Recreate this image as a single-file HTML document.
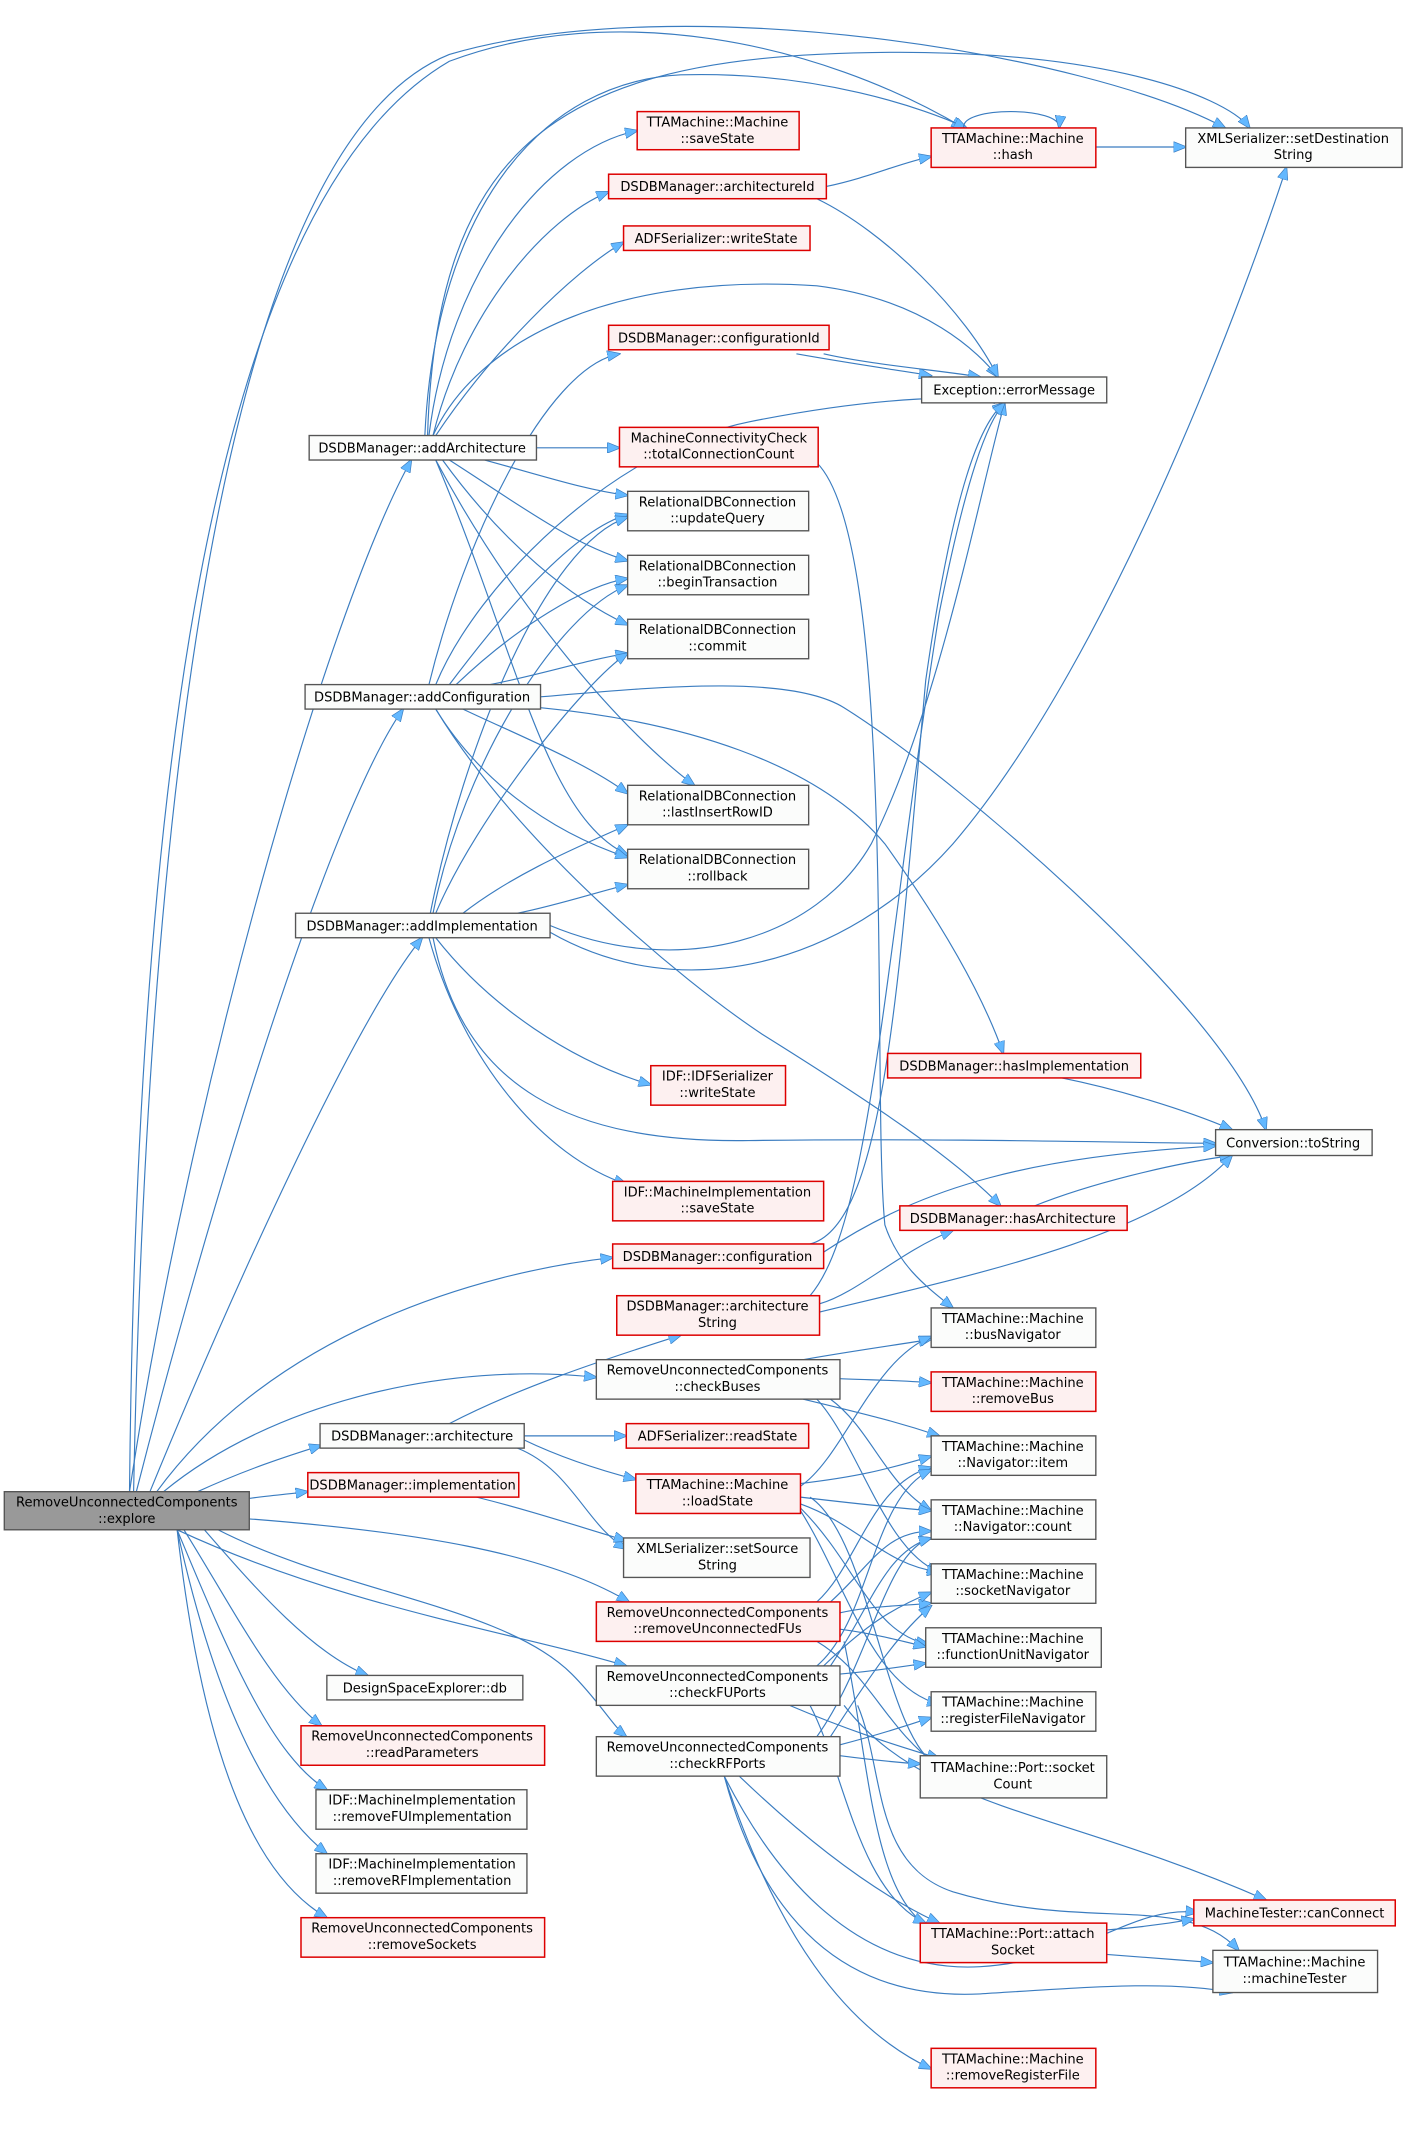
<!DOCTYPE html>
<html><head><meta charset="utf-8"><style>
html,body{margin:0;padding:0;background:#fff;}
svg{display:block}
text{font-family:"DejaVu Sans","Liberation Sans",sans-serif;font-size:9.6px;fill:#000;text-anchor:middle}
.e{fill:none;stroke:#3a7cc0;stroke-width:0.85}
.g{fill:#fbfcfb;stroke:#555;stroke-width:1}
.r{fill:#fdf0f0;stroke:#d00;stroke-width:1.1}
.x{fill:#999;stroke:#555;stroke-width:1}
</style></head><body>
<svg width="1405" height="2130" viewBox="0 0 1032 1565" xmlns="http://www.w3.org/2000/svg">
<defs><marker id="a" markerWidth="10" markerHeight="8" refX="9" refY="4" orient="auto" markerUnits="userSpaceOnUse"><path d="M0,0 L10,4 L0,8 z" fill="#63b8ff" stroke="#3a7cc0" stroke-width="0.5"/></marker></defs>
<g class="e" marker-end="url(#a)">
<path d="M95,1096 C140,800 240,450 302,338"/>
<path d="M100,1096 C150,900 240,600 296,521"/>
<path d="M110,1096 C170,950 260,750 310,689"/>
<path d="M115,1096 C200,980 350,935 450,924"/>
<path d="M120,1096 C200,1030 330,1000 438,1012"/>
<path d="M145,1096 C180,1080 210,1070 236,1062"/>
<path d="M183,1101 C195,1099 210,1098 226,1096"/>
<path d="M183,1116 C300,1125 400,1140 462,1177"/>
<path d="M130,1124 C250,1180 380,1200 460,1224"/>
<path d="M160,1124 C250,1170 370,1180 420,1230 C440,1250 450,1268 460,1276"/>
<path d="M150,1124 C190,1170 230,1215 270,1231"/>
<path d="M135,1124 C170,1180 200,1240 236,1268"/>
<path d="M130,1124 C170,1220 200,1290 240,1315"/>
<path d="M130,1124 C160,1260 200,1330 240,1362"/>
<path d="M130,1124 C150,1300 190,1380 240,1409"/>
<path d="M95,1096 C100,600 150,150 330,45 C450,0 600,30 708,94"/>
<path d="M98,1096 C110,500 180,100 330,40 C500,-10 800,40 900,94"/>
<path d="M315,320 C330,200 400,110 468,96"/>
<path d="M318,320 C340,230 400,160 447,141"/>
<path d="M312,320 C320,150 400,60 500,55 C600,52 680,80 710,94"/>
<path d="M320,320 C360,260 420,200 458,178"/>
<path d="M318,320 C350,250 450,200 600,210 C680,220 720,260 733,277"/>
<path d="M394,329 C420,329 440,329 455,329"/>
<path d="M356,338 C400,350 430,360 461,364"/>
<path d="M330,338 C380,370 420,400 461,412"/>
<path d="M325,338 C370,400 420,440 461,459"/>
<path d="M320,338 C380,450 460,540 510,577"/>
<path d="M320,338 C380,480 400,600 461,628"/>
<path d="M314,320 C320,120 400,50 600,40 C800,30 900,70 918,94"/>
<path d="M607,137 C640,130 660,120 684,115"/>
<path d="M600,146 C650,170 710,230 733,277"/>
<path d="M708,94 C705,78 780,78 778,94"/>
<path d="M805,108 C830,108 850,108 871,108"/>
<path d="M585,260 C630,268 660,272 684,276"/>
<path d="M605,260 C640,268 690,272 720,277"/>
<path d="M315,503 C340,400 400,270 455,260"/>
<path d="M320,503 C350,430 450,330 550,310 C650,290 720,290 730,296"/>
<path d="M330,503 C370,450 420,390 461,378"/>
<path d="M335,503 C380,460 430,430 461,425"/>
<path d="M360,503 C400,495 430,485 461,480"/>
<path d="M340,521 C380,540 430,560 461,583"/>
<path d="M320,521 C350,570 400,610 461,630"/>
<path d="M397,512 C480,505 580,495 620,520 C700,570 900,740 930,830"/>
<path d="M397,520 C500,530 600,560 650,620 C700,690 725,740 737,774"/>
<path d="M320,521 C380,620 500,720 560,760 C640,810 700,850 735,886"/>
<path d="M316,671 C340,550 400,400 461,380"/>
<path d="M318,671 C340,560 410,450 461,430"/>
<path d="M320,671 C350,600 430,500 461,480"/>
<path d="M340,671 C380,640 430,620 461,606"/>
<path d="M380,671 C410,665 440,655 461,650"/>
<path d="M404,680 C500,720 600,690 640,620 C690,520 720,360 738,296"/>
<path d="M404,685 C500,740 620,710 700,620 C820,480 920,200 945,123"/>
<path d="M320,689 C360,740 420,780 478,797"/>
<path d="M315,689 C340,780 400,850 460,870"/>
<path d="M318,689 C340,800 420,840 550,838 C700,836 850,840 893,840"/>
<path d="M780,792 C820,800 870,815 905,830"/>
<path d="M760,886 C800,870 860,855 905,849"/>
<path d="M595,914 C650,900 660,720 680,500 C700,360 720,310 738,296"/>
<path d="M605,920 C680,870 760,850 893,842"/>
<path d="M600,340 C660,400 640,800 650,900 C660,930 680,945 700,961"/>
<path d="M602,958 C630,950 660,920 700,904"/>
<path d="M602,964 C700,940 850,910 905,849"/>
<path d="M595,952 C640,900 650,700 690,450 C710,350 725,310 738,296"/>
<path d="M330,1046 C380,1020 440,1000 500,981"/>
<path d="M385,1055 C410,1055 440,1055 460,1055"/>
<path d="M385,1058 C410,1070 440,1080 467,1087"/>
<path d="M380,1064 C420,1080 430,1120 460,1138"/>
<path d="M350,1100 C390,1110 420,1120 460,1132"/>
<path d="M590,999 C630,992 660,988 684,984"/>
<path d="M617,1013 C640,1014 660,1014 684,1016"/>
<path d="M590,1028 C640,1040 660,1045 690,1055"/>
<path d="M610,1028 C640,1050 650,1090 684,1110"/>
<path d="M600,1028 C630,1060 650,1140 690,1155"/>
<path d="M588,1090 C630,1085 650,1080 684,1070"/>
<path d="M588,1100 C630,1105 660,1108 684,1110"/>
<path d="M588,1092 C620,1070 640,1000 684,982"/>
<path d="M588,1105 C630,1120 650,1150 690,1155"/>
<path d="M588,1108 C630,1150 640,1200 682,1208"/>
<path d="M588,1110 C620,1160 640,1240 690,1252"/>
<path d="M595,1100 C640,1130 650,1280 690,1298"/>
<path d="M600,1177 C630,1150 640,1090 684,1078"/>
<path d="M617,1185 C640,1180 660,1180 684,1178"/>
<path d="M617,1197 C640,1200 660,1205 680,1210"/>
<path d="M610,1177 C640,1150 650,1125 684,1125"/>
<path d="M600,1206 C640,1230 650,1270 690,1298"/>
<path d="M620,1206 C640,1300 640,1400 690,1420"/>
<path d="M600,1224 C640,1190 640,1100 684,1080"/>
<path d="M610,1224 C640,1180 650,1140 684,1130"/>
<path d="M617,1230 C640,1228 660,1225 680,1222"/>
<path d="M605,1224 C640,1190 660,1180 684,1170"/>
<path d="M580,1253 C620,1270 650,1280 690,1292"/>
<path d="M620,1253 C680,1330 780,1330 930,1396"/>
<path d="M630,1253 C650,1300 640,1370 700,1390 C800,1420 870,1390 910,1433"/>
<path d="M595,1253 C620,1300 630,1390 680,1413"/>
<path d="M610,1276 C640,1230 660,1200 684,1180"/>
<path d="M617,1282 C640,1276 660,1270 684,1262"/>
<path d="M617,1290 C640,1293 660,1295 676,1296"/>
<path d="M600,1276 C640,1220 650,1140 684,1130"/>
<path d="M543,1305 C590,1350 640,1390 690,1413"/>
<path d="M532,1305 C570,1380 630,1450 720,1445 C800,1440 830,1400 880,1405"/>
<path d="M532,1305 C560,1410 620,1470 720,1465 C800,1460 860,1455 905,1464"/>
<path d="M532,1305 C570,1420 620,1490 684,1520"/>
<path d="M813,1418 C840,1416 860,1413 877,1410"/>
<path d="M813,1436 C840,1438 865,1440 891,1442"/>
</g>
<g>
<rect class="x" x="3" y="1096" width="180" height="28"/><text x="93" y="1107">RemoveUnconnectedComponents</text><text x="93" y="1119">::explore</text>
<rect class="g" x="227" y="320" width="167" height="18"/><text x="310" y="332.5">DSDBManager::addArchitecture</text>
<rect class="r" x="468" y="82" width="119" height="28"/><text x="527" y="93">TTAMachine::Machine</text><text x="527" y="105">::saveState</text>
<rect class="r" x="684" y="94" width="121" height="29"/><text x="744" y="105">TTAMachine::Machine</text><text x="744" y="117">::hash</text>
<rect class="g" x="871" y="94" width="159" height="29"/><text x="950" y="105">XMLSerializer::setDestination</text><text x="950" y="117">String</text>
<rect class="r" x="447" y="128" width="160" height="18"/><text x="527" y="140.5">DSDBManager::architectureId</text>
<rect class="r" x="458" y="166" width="137" height="18"/><text x="526" y="178.5">ADFSerializer::writeState</text>
<rect class="r" x="447" y="239" width="162" height="18"/><text x="528" y="251.5">DSDBManager::configurationId</text>
<rect class="g" x="677" y="277" width="136" height="19"/><text x="745" y="290">Exception::errorMessage</text>
<rect class="r" x="455" y="314" width="146" height="29"/><text x="528" y="325">MachineConnectivityCheck</text><text x="528" y="337">::totalConnectionCount</text>
<rect class="g" x="461" y="361" width="133" height="29"/><text x="527" y="372">RelationalDBConnection</text><text x="527" y="384">::updateQuery</text>
<rect class="g" x="461" y="408" width="133" height="29"/><text x="527" y="419">RelationalDBConnection</text><text x="527" y="431">::beginTransaction</text>
<rect class="g" x="461" y="455" width="133" height="29"/><text x="527" y="466">RelationalDBConnection</text><text x="527" y="478">::commit</text>
<rect class="g" x="224" y="503" width="173" height="18"/><text x="310" y="515.5">DSDBManager::addConfiguration</text>
<rect class="g" x="461" y="577" width="133" height="29"/><text x="527" y="588">RelationalDBConnection</text><text x="527" y="600">::lastInsertRowID</text>
<rect class="g" x="461" y="624" width="133" height="29"/><text x="527" y="635">RelationalDBConnection</text><text x="527" y="647">::rollback</text>
<rect class="g" x="217" y="671" width="187" height="18"/><text x="310" y="683.5">DSDBManager::addImplementation</text>
<rect class="r" x="652" y="774" width="186" height="18"/><text x="745" y="786.5">DSDBManager::hasImplementation</text>
<rect class="r" x="478" y="783" width="99" height="29"/><text x="527" y="794">IDF::IDFSerializer</text><text x="527" y="806">::writeState</text>
<rect class="g" x="893" y="830" width="115" height="19"/><text x="950" y="843">Conversion::toString</text>
<rect class="r" x="450" y="868" width="155" height="29"/><text x="527" y="879">IDF::MachineImplementation</text><text x="527" y="891">::saveState</text>
<rect class="r" x="661" y="886" width="167" height="18"/><text x="744" y="898.5">DSDBManager::hasArchitecture</text>
<rect class="r" x="450" y="914" width="155" height="18"/><text x="527" y="926.5">DSDBManager::configuration</text>
<rect class="r" x="453" y="952" width="149" height="29"/><text x="527" y="963">DSDBManager::architecture</text><text x="527" y="975">String</text>
<rect class="g" x="684" y="961" width="121" height="29"/><text x="744" y="972">TTAMachine::Machine</text><text x="744" y="984">::busNavigator</text>
<rect class="g" x="438" y="999" width="179" height="29"/><text x="527" y="1010">RemoveUnconnectedComponents</text><text x="527" y="1022">::checkBuses</text>
<rect class="r" x="684" y="1008" width="121" height="29"/><text x="744" y="1019">TTAMachine::Machine</text><text x="744" y="1031">::removeBus</text>
<rect class="g" x="235" y="1046" width="150" height="18"/><text x="310" y="1058.5">DSDBManager::architecture</text>
<rect class="r" x="460" y="1046" width="134" height="18"/><text x="527" y="1058.5">ADFSerializer::readState</text>
<rect class="g" x="684" y="1055" width="121" height="29"/><text x="744" y="1066">TTAMachine::Machine</text><text x="744" y="1078">::Navigator::item</text>
<rect class="r" x="226" y="1082" width="155" height="18"/><text x="303" y="1094.5">DSDBManager::implementation</text>
<rect class="r" x="467" y="1083" width="121" height="29"/><text x="527" y="1094">TTAMachine::Machine</text><text x="527" y="1106">::loadState</text>
<rect class="g" x="684" y="1102" width="121" height="29"/><text x="744" y="1113">TTAMachine::Machine</text><text x="744" y="1125">::Navigator::count</text>
<rect class="g" x="458" y="1130" width="137" height="29"/><text x="527" y="1141">XMLSerializer::setSource</text><text x="527" y="1153">String</text>
<rect class="g" x="684" y="1149" width="121" height="29"/><text x="744" y="1160">TTAMachine::Machine</text><text x="744" y="1172">::socketNavigator</text>
<rect class="r" x="438" y="1177" width="179" height="29"/><text x="527" y="1188">RemoveUnconnectedComponents</text><text x="527" y="1200">::removeUnconnectedFUs</text>
<rect class="g" x="680" y="1196" width="129" height="29"/><text x="744" y="1207">TTAMachine::Machine</text><text x="744" y="1219">::functionUnitNavigator</text>
<rect class="g" x="240" y="1231" width="144" height="18"/><text x="312" y="1243.5">DesignSpaceExplorer::db</text>
<rect class="g" x="438" y="1224" width="179" height="29"/><text x="527" y="1235">RemoveUnconnectedComponents</text><text x="527" y="1247">::checkFUPorts</text>
<rect class="g" x="684" y="1243" width="121" height="29"/><text x="744" y="1254">TTAMachine::Machine</text><text x="744" y="1266">::registerFileNavigator</text>
<rect class="r" x="221" y="1268" width="179" height="29"/><text x="310" y="1279">RemoveUnconnectedComponents</text><text x="310" y="1291">::readParameters</text>
<rect class="g" x="438" y="1276" width="179" height="29"/><text x="527" y="1287">RemoveUnconnectedComponents</text><text x="527" y="1299">::checkRFPorts</text>
<rect class="g" x="676" y="1290" width="137" height="31" stroke="#333"/><text x="744" y="1302">TTAMachine::Port::socket</text><text x="744" y="1314">Count</text>
<rect class="g" x="232" y="1315" width="155" height="29"/><text x="310" y="1326">IDF::MachineImplementation</text><text x="310" y="1338">::removeFUImplementation</text>
<rect class="g" x="232" y="1362" width="155" height="29"/><text x="310" y="1373">IDF::MachineImplementation</text><text x="310" y="1385">::removeRFImplementation</text>
<rect class="r" x="877" y="1396" width="148" height="19"/><text x="951" y="1409">MachineTester::canConnect</text>
<rect class="r" x="221" y="1409" width="179" height="29"/><text x="310" y="1420">RemoveUnconnectedComponents</text><text x="310" y="1432">::removeSockets</text>
<rect class="r" x="676" y="1413" width="137" height="29"/><text x="744" y="1424">TTAMachine::Port::attach</text><text x="744" y="1436">Socket</text>
<rect class="g" x="891" y="1433" width="121" height="31"/><text x="951" y="1445">TTAMachine::Machine</text><text x="951" y="1457">::machineTester</text>
<rect class="r" x="684" y="1505" width="121" height="29"/><text x="744" y="1516">TTAMachine::Machine</text><text x="744" y="1528">::removeRegisterFile</text>
</g>
</svg>
</body></html>
